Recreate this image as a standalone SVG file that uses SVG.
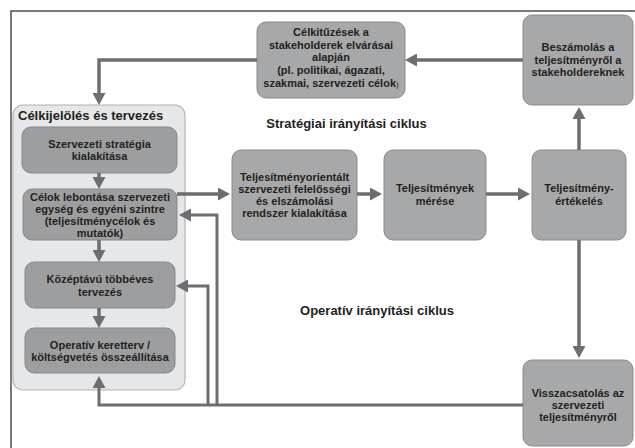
<svg xmlns="http://www.w3.org/2000/svg" width="635" height="448" viewBox="0 0 635 448">
<style>
.box{fill:#a7a8aa;stroke:#8a8b8e;stroke-width:1}
.ibox{fill:#9d9ea0;stroke:#86878a;stroke-width:1}
.grp{fill:#e6e7e8;stroke:#b3b4b6;stroke-width:1.2}
.t{font-family:"Liberation Sans",Arial,sans-serif;font-weight:bold;font-size:11px;fill:#231f20;text-anchor:middle}
.h{font-family:"Liberation Sans",Arial,sans-serif;font-weight:bold;font-size:13px;fill:#231f20}
.c{fill:none;stroke:#6d6e71;stroke-width:3.5}
.c2{fill:none;stroke:#6d6e71;stroke-width:3}
.frame{fill:none;stroke:#4d4d4f;stroke-width:1.5}
</style>
<defs>
<marker id="ah" viewBox="0 0 12 13" refX="2" refY="6.5" markerWidth="12" markerHeight="13" markerUnits="userSpaceOnUse" orient="auto">
<path d="M0,0 L12,6.5 L0,13 z" fill="#6d6e71"/>
</marker>
</defs>
<rect width="635" height="448" fill="#ffffff"/>
<path class="frame" d="M11,448 L11,11 L635,11"/>

<g id="grp-celkijeloles">
<rect class="grp" x="13" y="105" width="172" height="285" rx="10"/>
<text class="h" x="18" y="120">Célkijelölés és tervezés</text>
</g>

<g id="n-celkituzesek">
<rect class="box" x="257" y="22" width="148" height="76" rx="9"/>
<text class="t"><tspan x="331" y="36">Célkitűzések a</tspan><tspan x="331" y="49">stakeholderek elvárásai</tspan><tspan x="331" y="61">alapján</tspan><tspan x="331" y="74">(pl. politikai, ágazati,</tspan><tspan x="331" y="87">szakmai, szervezeti célok<tspan font-size="8" font-weight="normal">)</tspan></tspan></text>
</g>

<g id="n-beszamolas">
<rect class="box" x="523" y="15" width="110" height="90" rx="9"/>
<text class="t"><tspan x="578" y="51">Beszámolás a</tspan><tspan x="578" y="64">teljesítményről a</tspan><tspan x="578" y="76">stakeholdereknek</tspan></text>
</g>

<g id="n-strategia">
<rect class="ibox" x="22" y="127" width="155" height="46" rx="9"/>
<text class="t"><tspan x="99.5" y="148">Szervezeti stratégia</tspan><tspan x="99.5" y="160">kialakítása</tspan></text>
</g>

<g id="n-celok">
<rect class="ibox" x="23" y="189" width="154" height="51" rx="9"/>
<text class="t"><tspan x="100" y="201">Célok lebontása szervezeti</tspan><tspan x="100" y="213">egység és egyéni szintre</tspan><tspan x="100" y="225">(teljesítménycélok és</tspan><tspan x="100" y="237">mutatók)</tspan></text>
</g>

<g id="n-kozeptavu">
<rect class="ibox" x="25" y="262" width="150" height="46" rx="9"/>
<text class="t"><tspan x="100" y="283">Középtávú többéves</tspan><tspan x="100" y="296">tervezés</tspan></text>
</g>

<g id="n-operativ">
<rect class="ibox" x="25" y="328" width="150" height="45" rx="9"/>
<text class="t"><tspan x="100" y="349">Operatív keretterv /</tspan><tspan x="100" y="361">költségvetés összeállítása</tspan></text>
</g>

<g id="n-teljesitmenyorientalt">
<rect class="box" x="232" y="150" width="125" height="90" rx="9"/>
<text class="t"><tspan x="294.5" y="181">Teljesítményorientált</tspan><tspan x="294.5" y="193">szervezeti felelősségi</tspan><tspan x="294.5" y="205">és elszámolási</tspan><tspan x="294.5" y="217">rendszer kialakítása</tspan></text>
</g>

<g id="n-meres">
<rect class="box" x="384" y="150" width="102" height="90" rx="9"/>
<text class="t"><tspan x="435" y="192">Teljesítmények</tspan><tspan x="435" y="205">mérése</tspan></text>
</g>

<g id="n-ertekeles">
<rect class="box" x="532" y="150" width="94" height="90" rx="9"/>
<text class="t"><tspan x="579" y="192">Teljesítmény-</tspan><tspan x="579" y="205">értékelés</tspan></text>
</g>

<g id="n-visszacsatolas">
<rect class="box" x="523" y="360" width="110" height="86" rx="9"/>
<text class="t"><tspan x="578" y="397">Visszacsatolás az</tspan><tspan x="578" y="409">szervezeti</tspan><tspan x="578" y="421">teljesítményről</tspan></text>
</g>

<g id="labels">
<text class="h" x="346.5" y="128" text-anchor="middle">Stratégiai irányítási ciklus</text>
<text class="h" x="377" y="315" text-anchor="middle">Operatív irányítási ciklus</text>
</g>

<g id="connectors">
<path class="c" d="M523,60 L415,60" marker-end="url(#ah)"/>
<path class="c" d="M257,60 L99,60 L99,95" marker-end="url(#ah)"/>
<path class="c" d="M99,173 L99,179" marker-end="url(#ah)"/>
<path class="c" d="M99,240 L99,252" marker-end="url(#ah)"/>
<path class="c" d="M99,308 L99,318" marker-end="url(#ah)"/>
<path class="c" d="M177,194 L220,194" marker-end="url(#ah)"/>
<path class="c" d="M357,194 L372,194" marker-end="url(#ah)"/>
<path class="c" d="M486,194 L520,194" marker-end="url(#ah)"/>
<path class="c" d="M579,150 L579,117" marker-end="url(#ah)"/>
<path class="c" d="M579,240 L579,348" marker-end="url(#ah)"/>
<path class="c2" d="M523,405 L99,405 L99,386" marker-end="url(#ah)"/>
<path class="c2" d="M217,405 L217,215 L189,215" marker-end="url(#ah)"/>
<path class="c2" d="M208,405 L208,286 L186,286" marker-end="url(#ah)"/>
</g>
</svg>
